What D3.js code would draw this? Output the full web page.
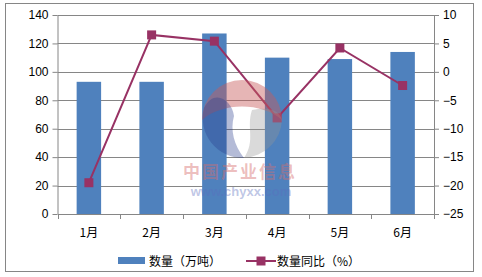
<!DOCTYPE html>
<html><head><meta charset="utf-8">
<script src="https://cdn.jsdelivr.net/npm/d3@7"></script>
<style>
body{margin:0;background:#fff;}
svg{display:block;font-family:"Noto Sans CJK SC","DejaVu Sans",sans-serif;}
</style></head><body>
<svg id="c" width="482" height="277"></svg>
<script>
const categories = ["1月","2月","3月","4月","5月","6月"];
const quantity = [93, 93, 127, 110, 109, 114];
const yoy = [-19.5, 6.5, 5.4, -8.1, 4.2, -2.4];
const leftTicks = [0,20,40,60,80,100,120,140];
const rightTicks = [-25,-20,-15,-10,-5,0,5,10];
const legendLabels = ["数量（万吨）","数量同比（%）"];

const svg = d3.select("#c");
const L = 57.5, R = 434, T = 15, B = 214;
const barColor = "#4F81BD", lineColor = "#983264", gridColor = "#868686";

svg.append("rect").attr("x",5.5).attr("y",3.5).attr("width",468).attr("height",268)
  .attr("fill","#fff").attr("stroke","#868686").attr("stroke-width",1);

const x = d3.scaleBand().domain(categories).range([L,R]).paddingInner(0.61).paddingOuter(0.305);
const xb = d3.scaleBand().domain(categories).range([L,R]);
const yL = d3.scaleLinear().domain([0,140]).range([B,T]);
const yR = d3.scaleLinear().domain([-25,10]).range([B,T]);

// gridlines
svg.append("g").selectAll("line").data(leftTicks.slice(1)).join("line")
  .attr("x1",L).attr("x2",R).attr("y1",d=>Math.round(yL(d))+0.5).attr("y2",d=>Math.round(yL(d))+0.5)
  .attr("stroke",gridColor).attr("stroke-width",1);

// bars
svg.append("g").selectAll("rect").data(quantity).join("rect")
  .attr("x",(d,i)=>x(categories[i])).attr("width",x.bandwidth())
  .attr("y",d=>yL(d)).attr("height",d=>B-yL(d)).attr("fill",barColor);

// axes
const fontSize = 12;
const axL = svg.append("g").attr("transform",`translate(${L},0)`)
  .call(d3.axisLeft(yL).tickValues(leftTicks).tickSize(5).tickSizeOuter(0).tickPadding(4));
const axR = svg.append("g").attr("transform",`translate(${R},0)`)
  .call(d3.axisRight(yR).tickValues(rightTicks).tickSize(5).tickSizeOuter(0).tickPadding(4)
    .tickFormat(d=>d<0?"\u2212"+Math.abs(d):d));
const axB = svg.append("g").attr("transform",`translate(0,${B})`)
  .call(d3.axisBottom(xb).tickSize(0).tickSizeOuter(0).tickPadding(14));
// category boundary ticks
svg.append("g").selectAll("line").data(d3.range(categories.length+1)).join("line")
  .attr("x1",i=>Math.round(L+i*xb.step())+0.5).attr("x2",i=>Math.round(L+i*xb.step())+0.5)
  .attr("y1",B).attr("y2",B+5).attr("stroke",gridColor);
[axL,axR,axB].forEach(a=>{
  a.selectAll("path,line").attr("stroke",gridColor);
  a.selectAll("text").attr("font-size",fontSize).attr("fill","#000")
   .attr("font-family","'Liberation Sans','Noto Sans CJK SC',sans-serif");
});
axB.selectAll("text").attr("font-family","'Noto Sans CJK SC',sans-serif");

// line
const cx = i => xb(categories[i]) + xb.bandwidth()/2;
svg.append("path").datum(yoy)
  .attr("d", d3.line().x((d,i)=>cx(i)).y(d=>yR(d)))
  .attr("fill","none").attr("stroke",lineColor).attr("stroke-width",2);
svg.append("g").selectAll("rect").data(yoy).join("rect")
  .attr("x",(d,i)=>cx(i)-4.5).attr("y",d=>yR(d)-4.5).attr("width",9).attr("height",9)
  .attr("fill",lineColor);

// legend
const lg = svg.append("g").attr("font-size",12).attr("fill","#000");
lg.append("rect").attr("x",118).attr("y",257).attr("width",27).attr("height",7).attr("fill",barColor);
lg.append("text").attr("x",149).attr("y",265.5).text(legendLabels[0]);
lg.append("line").attr("x1",246).attr("x2",276).attr("y1",261).attr("y2",261)
  .attr("stroke",lineColor).attr("stroke-width",2);
lg.append("rect").attr("x",256.5).attr("y",256.5).attr("width",9).attr("height",9).attr("fill",lineColor);
lg.append("text").attr("x",277).attr("y",265.5).text(legendLabels[1]);

// watermark
const wm = svg.append("g").attr("pointer-events","none");
const wcx = 242, wcy = 120, wr = 40;
wm.append("path").attr("d",`M${wcx-wr},${wcy} A${wr},${wr} 0 0 1 ${wcx+wr},${wcy} C${wcx+20},${wcy-18} ${wcx-20},${wcy-18} ${wcx-wr},${wcy} Z`)
  .attr("fill","rgba(200,90,90,0.45)");
wm.append("path").attr("d",`M${wcx-wr+2},${wcy-12} C${wcx-28},${wcy-32} ${wcx-10},${wcy-20} ${wcx-8},${wcy-4} C${wcx-12},${wcy+10} ${wcx-8},${wcy+25} ${wcx+2},${wcy+38} A${wr},${wr} 0 0 1 ${wcx-wr+2},${wcy-12} Z`)
  .attr("fill","rgba(40,60,140,0.35)");
wm.append("path").attr("d",`M${wcx+10},${wcy-10} C${wcx+30},${wcy-14} ${wcx+38},${wcy-8} ${wcx+wr},${wcy} A${wr},${wr} 0 0 1 ${wcx+2},${wcy+38} C${wcx+14},${wcy+20} ${wcx+4},${wcy+8} ${wcx+10},${wcy-10} Z`)
  .attr("fill","rgba(150,150,150,0.35)");
wm.append("text").attr("x",240).attr("y",178).attr("text-anchor","middle")
  .attr("font-size",17).attr("font-weight","bold").attr("fill","rgba(215,110,110,0.45)")
  .attr("font-family","'Noto Sans CJK SC',sans-serif").attr("letter-spacing",2).text("中国产业信息");
wm.append("text").attr("x",241).attr("y",196).attr("text-anchor","middle")
  .attr("font-size",13).attr("font-weight","bold").attr("fill","rgba(90,110,190,0.4)")
  .attr("font-family","'Liberation Sans',sans-serif").text("www.chyxx.com");
</script>
</body></html>
